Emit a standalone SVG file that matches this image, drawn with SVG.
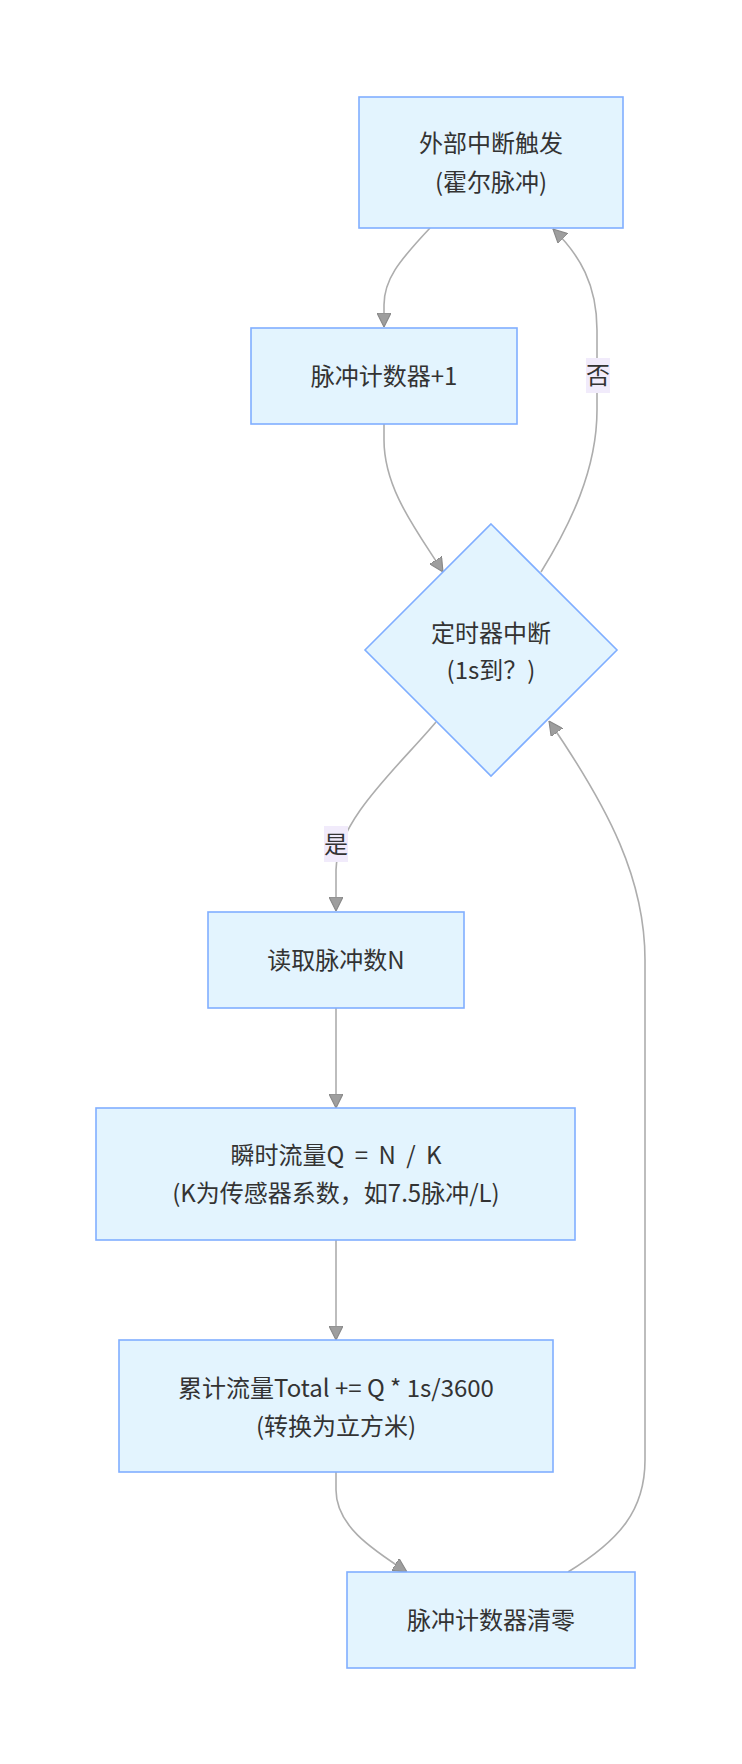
<svg xmlns="http://www.w3.org/2000/svg" width="742" height="1764" viewBox="0 0 742 1764">
<style>
.node rect,.node polygon{fill:#e3f4fe;stroke:#80aeff;stroke-width:1.6}
.node text,.lbl text{font-family:"Noto Sans CJK SC","Noto Sans",sans-serif;font-size:24px;fill:#333;text-anchor:middle}
.edges path{fill:none;stroke:#adadad;stroke-width:1.6}
.lbl rect{fill:#f1ebfb}
</style>
<defs>
<marker id="arr" viewBox="0 0 10 10" refX="10" refY="5" markerUnits="userSpaceOnUse" markerWidth="14" markerHeight="14" orient="auto">
<path d="M0,0 L10,5 L0,10 z" fill="#9e9e9e" stroke="#888" stroke-width="0.8"/>
</marker>
</defs>
<rect width="742" height="1764" fill="#fff"/>
<g class="edges">
<path d="M430,228 C398,262 384,280 384,305 L384,327" marker-end="url(#arr)"/>
<path d="M384,424 L384,440 C384,490 418,532 443,572" marker-end="url(#arr)"/>
<path d="M541,572 C570,525 597,470 597,410 L597,330 C597,285 580,255 553,229" marker-end="url(#arr)"/>
<path d="M436,722 C400,765 337,820 336,870 L336,911" marker-end="url(#arr)"/>
<path d="M336,1008 L336,1108" marker-end="url(#arr)"/>
<path d="M336,1240 L336,1340" marker-end="url(#arr)"/>
<path d="M336,1472 L336,1490 C336,1525 370,1548 407,1572" marker-end="url(#arr)"/>
<path d="M568,1572 C620,1540 645,1510 645,1460 L645,960 C645,880 610,810 549,721" marker-end="url(#arr)"/>
</g>
<g class="lbl" id="label-no">
<rect x="586" y="358" width="24" height="35"/>
<text x="598" y="384">否</text>
</g>
<g class="lbl" id="label-yes">
<rect x="324" y="826" width="24" height="36"/>
<text x="336" y="853">是</text>
</g>
<g class="node" id="n1">
<rect x="359" y="97" width="264" height="131"/>
<text x="491" y="152">外部中断触发</text>
<text x="491" y="191">(霍尔脉冲)</text>
</g>
<g class="node" id="n2">
<rect x="251" y="328" width="266" height="96"/>
<text x="384" y="385">脉冲计数器+1</text>
</g>
<g class="node" id="n3">
<polygon points="491,524 617,650 491,776 365,650"/>
<text x="491" y="642">定时器中断</text>
<text x="491" y="679">(1s到？)</text>
</g>
<g class="node" id="n4">
<rect x="208" y="912" width="256" height="96"/>
<text x="336" y="969">读取脉冲数N</text>
</g>
<g class="node" id="n5">
<rect x="96" y="1108" width="479" height="132"/>
<text x="336" y="1164" style="word-spacing:5px">瞬时流量Q = N / K</text>
<text x="336" y="1202">(K为传感器系数，如7.5脉冲/L)</text>
</g>
<g class="node" id="n6">
<rect x="119" y="1340" width="434" height="132"/>
<text x="336" y="1397">累计流量Total += Q * 1s/3600</text>
<text x="336" y="1435">(转换为立方米)</text>
</g>
<g class="node" id="n7">
<rect x="347" y="1572" width="288" height="96"/>
<text x="491" y="1629">脉冲计数器清零</text>
</g>
</svg>
